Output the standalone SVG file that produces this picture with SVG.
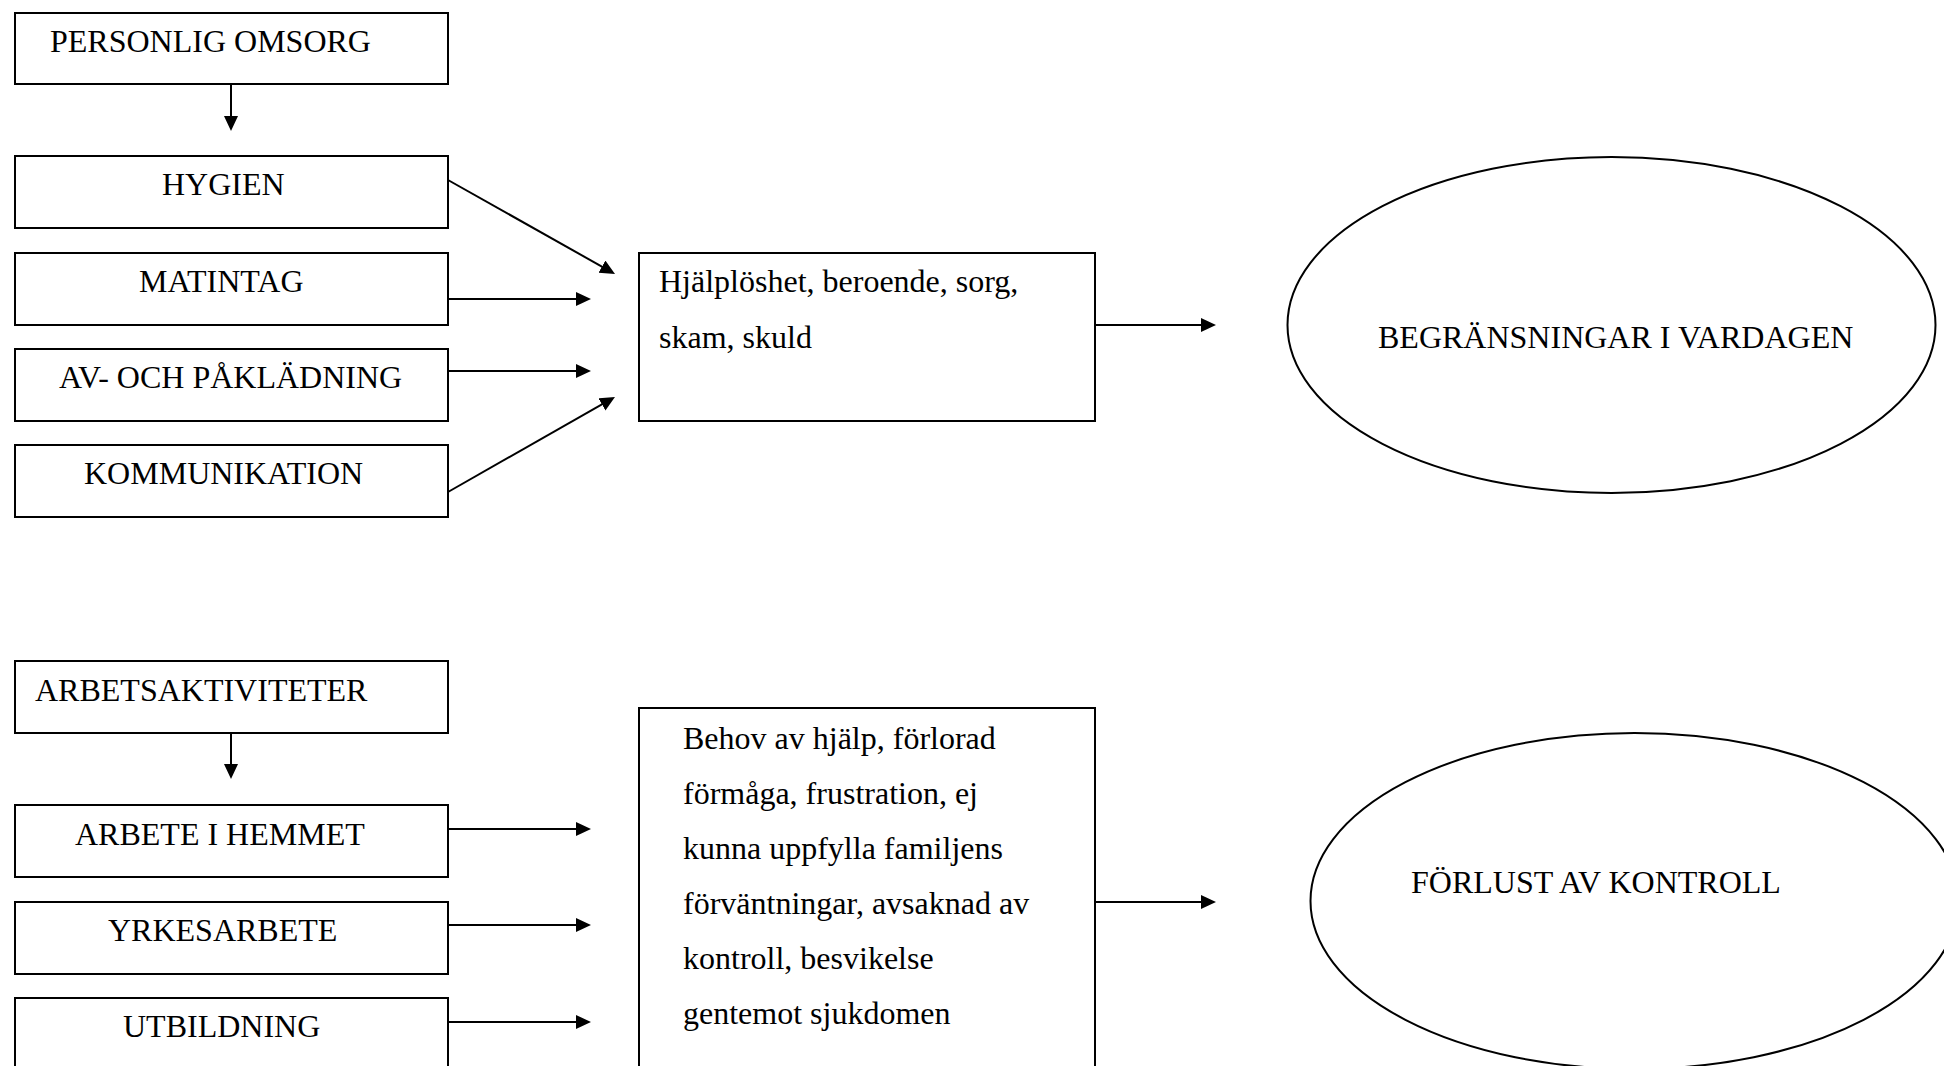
<svg xmlns="http://www.w3.org/2000/svg" width="1944" height="1066" viewBox="0 0 1944 1066">
<style>
.box{fill:#fff;stroke:#000;stroke-width:2}
.ell{fill:#fff;stroke:#000;stroke-width:2}
.t{font-family:"Liberation Serif","Times New Roman",serif;font-size:32px;fill:#000}
.c{stroke:#000;stroke-width:2;fill:none;marker-end:url(#ah)}
</style>
<defs>
<marker id="ah" markerUnits="userSpaceOnUse" markerWidth="16" markerHeight="15" refX="5" refY="7" orient="auto">
<path d="M0,0 L15,7 L0,14 Z" fill="#000"/>
</marker>
</defs>
<rect width="1944" height="1066" fill="#fff"/>

<g id="personlig-omsorg"><rect class="box" x="15" y="13" width="433" height="71"/><text class="t" x="50" y="52">PERSONLIG OMSORG</text></g>
<g id="hygien"><rect class="box" x="15" y="156" width="433" height="72"/><text class="t" x="162" y="195">HYGIEN</text></g>
<g id="matintag"><rect class="box" x="15" y="253" width="433" height="72"/><text class="t" x="139" y="292">MATINTAG</text></g>
<g id="paklädning"><rect class="box" x="15" y="349" width="433" height="72"/><text class="t" x="59" y="388">AV- OCH PÅKLÄDNING</text></g>
<g id="kommunikation"><rect class="box" x="15" y="445" width="433" height="72"/><text class="t" x="84" y="484">KOMMUNIKATION</text></g>

<g id="kansla-1"><rect class="box" x="639" y="253" width="456" height="168"/><text class="t" x="659" y="292">Hjälplöshet, beroende, sorg,</text><text class="t" x="659" y="348">skam, skuld</text></g>
<g id="begransningar"><ellipse class="ell" cx="1611.5" cy="325" rx="324" ry="168"/><text class="t" x="1378" y="348">BEGRÄNSNINGAR I VARDAGEN</text></g>

<g id="arbetsaktiviteter"><rect class="box" x="15" y="661" width="433" height="72"/><text class="t" x="35" y="701">ARBETSAKTIVITETER</text></g>
<g id="arbete-i-hemmet"><rect class="box" x="15" y="805" width="433" height="72"/><text class="t" x="75" y="845">ARBETE I HEMMET</text></g>
<g id="yrkesarbete"><rect class="box" x="15" y="902" width="433" height="72"/><text class="t" x="108" y="941">YRKESARBETE</text></g>
<g id="utbildning"><rect class="box" x="15" y="998" width="433" height="72"/><text class="t" x="123" y="1037">UTBILDNING</text></g>

<g id="kansla-2"><rect class="box" x="639" y="708" width="456" height="400"/>
<text class="t" x="683" y="749">Behov av hjälp, förlorad</text>
<text class="t" x="683" y="804">förmåga, frustration, ej</text>
<text class="t" x="683" y="859">kunna uppfylla familjens</text>
<text class="t" x="683" y="914">förväntningar, avsaknad av</text>
<text class="t" x="683" y="969">kontroll, besvikelse</text>
<text class="t" x="683" y="1024">gentemot sjukdomen</text>
</g>
<g id="forlust"><ellipse class="ell" cx="1634.5" cy="901" rx="324" ry="168"/><text class="t" x="1411" y="893">FÖRLUST AV KONTROLL</text></g>

<g id="connectors">
<line class="c" x1="231" y1="84" x2="231" y2="121"/>
<line class="c" x1="448" y1="180" x2="606.3" y2="269.1"/>
<line class="c" x1="448" y1="299" x2="581" y2="299"/>
<line class="c" x1="448" y1="371" x2="581" y2="371"/>
<line class="c" x1="448" y1="492" x2="606.3" y2="401.9"/>
<line class="c" x1="1095" y1="325" x2="1206" y2="325"/>
<line class="c" x1="231" y1="733" x2="231" y2="769"/>
<line class="c" x1="448" y1="829" x2="581" y2="829"/>
<line class="c" x1="448" y1="925" x2="581" y2="925"/>
<line class="c" x1="448" y1="1022" x2="581" y2="1022"/>
<line class="c" x1="1095" y1="902" x2="1206" y2="902"/>
</g>
</svg>
